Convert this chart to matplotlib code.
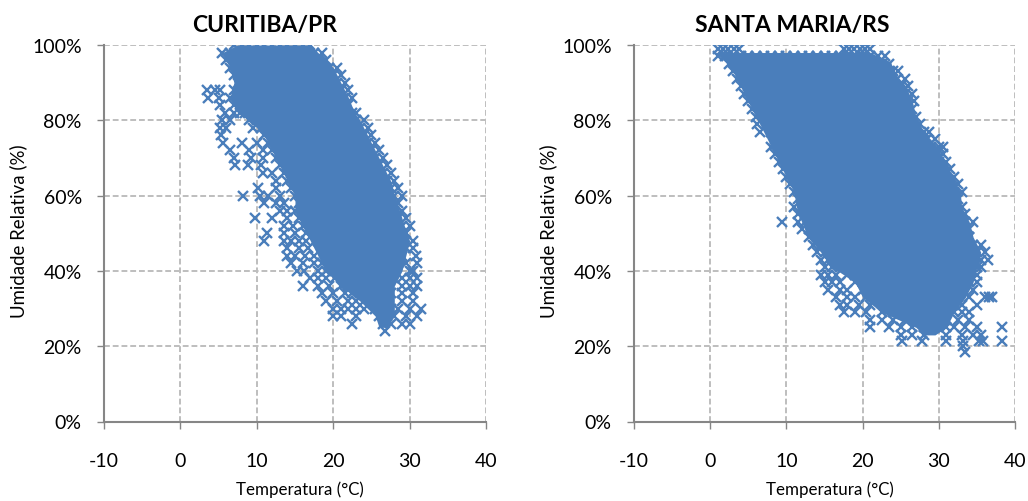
import matplotlib
matplotlib.use('Agg')
import matplotlib.pyplot as plt

plt.rcParams['font.family'] = ['Lato', 'DejaVu Sans']
plt.rcParams['axes.unicode_minus'] = False

# each row: one humidity level, with the temperatures read at that level
cwb_umid = [100, 98, 96, 94, 92, 90, 88, 86, 84, 82, 80, 78, 76, 74, 72, 70, 68, 66, 64, 62,
            60, 58, 56, 54, 52, 50, 48, 46, 44, 42, 40, 38, 36, 34, 32, 30, 28, 26, 24]
cwb_temp = [
    [7, 8, 9, 10, 11, 12, 13, 14, 15, 16, 17],
    [5.5, 6.5, 7.5, 8.5, 9.5, 10.5, 11.5, 12.5, 13.5, 14.5, 15.5, 16.5, 17.5, 18.5],
    [6, 7, 8, 9, 10, 11, 12, 13, 14, 15, 16, 17, 18, 19],
    [6.5, 7.5, 8.5, 9.5, 10.5, 11.5, 12.5, 13.5, 14.5, 15.5, 16.5, 17.5, 18.5, 19.5, 20.5],
    [7, 8, 9, 10, 11, 12, 13, 14, 15, 16, 17, 18, 19, 20, 21],
    [7.5, 8.5, 9.5, 10.5, 11.5, 12.5, 13.5, 14.5, 15.5, 16.5, 17.5, 18.5, 19.5, 20.5, 21.5],
    [3.5, 4.5, 5.2, 7, 8, 9, 10, 11, 12, 13, 14, 15, 16, 17, 18, 19, 20, 21, 22],
    [3.6, 5, 6.5, 7.5, 8.5, 9.5, 10.5, 11.5, 12.5, 13.5, 14.5, 15.5, 16.5, 17.5, 18.5, 19.5, 20.5, 21.5, 22.5],
    [5.2, 7, 8, 9, 10, 11, 12, 13, 14, 15, 16, 17, 18, 19, 20, 21, 22],
    [5.8, 7, 7.8, 8.5, 9.5, 10.5, 11.5, 12.5, 13.5, 14.5, 15.5, 16.5, 17.5, 18.5, 19.5, 20.5, 21.5, 22.5, 23],
    [5.4, 6.5, 9, 10, 11, 12, 13, 14, 15, 16, 17, 18, 19, 20, 21, 22, 23, 24],
    [5.2, 6, 9.5, 10.5, 11.5, 12.5, 13.5, 14.5, 15.5, 16.5, 17.5, 18.5, 19.5, 20.5, 21.5, 22.5, 23.5, 24.5],
    [5.3, 11, 12, 13, 14, 15, 16, 17, 18, 19, 20, 21, 22, 23, 24, 25],
    [5.6, 8, 10, 11.5, 12.5, 13.5, 14.5, 15.5, 16.5, 17.5, 18.5, 19.5, 20.5, 21.5, 22.5, 23.5, 24.5, 25.5],
    [6.5, 9, 10.8, 12, 13, 14, 15, 16, 17, 18, 19, 20, 21, 22, 23, 24, 25, 26],
    [7, 9.3, 10.8, 12.5, 13.5, 14.5, 15.5, 16.5, 17.5, 18.5, 19.5, 20.5, 21.5, 22.5, 23.5, 24.5, 25.5, 26.5],
    [7.2, 8.8, 10.5, 13, 14, 15, 16, 17, 18, 19, 20, 21, 22, 23, 24, 25, 26, 27],
    [10.8, 12, 13.5, 14.5, 15.5, 16.5, 17.5, 18.5, 19.5, 20.5, 21.5, 22.5, 23.5, 24.5, 25.5, 26.5, 27.5],
    [12.5, 14, 15, 16, 17, 18, 19, 20, 21, 22, 23, 24, 25, 26, 27, 28],
    [10.2, 12.5, 14.5, 15.5, 16.5, 17.5, 18.5, 19.5, 20.5, 21.5, 22.5, 23.5, 24.5, 25.5, 26.5, 27.5, 28.5],
    [8.2, 10.4, 11.5, 13, 15, 16, 17, 18, 19, 20, 21, 22, 23, 24, 25, 26, 27, 28, 29],
    [11, 12.5, 13.5, 15.5, 16.5, 17.5, 18.5, 19.5, 20.5, 21.5, 22.5, 23.5, 24.5, 25.5, 26.5, 27.5, 28.5],
    [13, 14, 15, 16, 17, 18, 19, 20, 21, 22, 23, 24, 25, 26, 27, 28, 29],
    [9.8, 12, 14, 15.5, 16.5, 17.5, 18.5, 19.5, 20.5, 21.5, 22.5, 23.5, 24.5, 25.5, 26.5, 27.5, 28.5, 29.5],
    [13.5, 14.8, 16, 17, 18, 19, 20, 21, 22, 23, 24, 25, 26, 27, 28, 29, 30],
    [11.3, 13.5, 15, 16.5, 17.5, 18.5, 19.5, 20.5, 21.5, 22.5, 23.5, 24.5, 25.5, 26.5, 27.5, 28.5, 29.5],
    [11, 13.5, 14.5, 15.5, 16.5, 18, 19, 20, 21, 22, 23, 24, 25, 26, 27, 28, 29, 30.5],
    [14, 15.5, 16.7, 18.5, 19.5, 20.5, 21.5, 22.5, 23.5, 24.5, 25.5, 26.5, 27.5, 28.5, 29.5, 30.5],
    [14, 15, 16.3, 17.5, 19, 20, 21, 22, 23, 24, 25, 26, 27, 28, 29, 30.8],
    [14.5, 16, 17.5, 18.5, 19.5, 20.5, 21.5, 22.5, 23.5, 24.5, 25.5, 26.5, 27.5, 28.5, 29.5, 31],
    [15.3, 16.2, 18, 19, 20, 21, 22, 23, 24, 25, 26, 27, 28, 30, 30.5],
    [17, 18, 19, 20.3, 21.5, 22.5, 23.5, 24.5, 25.5, 26.5, 27.5, 29, 30, 31],
    [16, 18, 19.5, 21, 22, 23, 24, 25, 26, 27, 29, 30, 31],
    [18.5, 20, 21.5, 22.5, 23.5, 24.5, 25.5, 26.5, 27.5, 29, 30.5],
    [19, 20.5, 22, 23, 24, 25, 26, 27, 29, 30.5],
    [20, 21, 22, 23, 24, 25.5, 26.5, 27.5, 28.5, 30, 31.5],
    [20, 21, 23, 26, 27, 28, 29.5, 31],
    [22.5, 26.5, 27.5, 29, 30],
    [26.8],
]
# where the crosses overlap into a solid mass: limits of that mass per humidity
cwb_massa_umid = [100, 98, 94, 90, 86, 82, 80, 76, 72, 68, 64, 60, 56, 52, 48, 44, 40, 36, 32, 28, 25]
cwb_massa_min = [7.5, 5.5, 6.5, 7, 6.5, 7.5, 9, 11, 12, 13, 14, 15, 15, 16, 17, 18, 19, 21, 23.5, 25.5, 26]
cwb_massa_max = [17, 18, 20, 21, 22, 22.8, 23.5, 24.5, 25.5, 26.5, 27.5, 28, 28.7, 29.3, 30, 29.5, 29, 28, 28, 28, 27]

sm_umid = [99, 97, 95, 93, 91, 89, 87, 85, 83, 81, 79, 77, 75, 73, 71, 69, 67, 65, 63, 61,
           59, 57, 55, 53, 51, 49, 47, 45, 43, 41, 39, 37, 35, 33, 31, 29, 27, 25, 23, 21.5, 20, 18.5]
sm_temp = [
    [1, 1.7, 2.4, 3.1, 3.8, 17.5, 18.2, 18.9, 19.6, 20.3, 21],
    [1, 2, 3, 4, 5, 6, 7, 8, 9, 10, 11, 12, 13, 14, 15, 16, 17, 18, 19, 20, 21, 22, 23],
    [2.5, 3.5, 4.5, 5.5, 6.5, 7.5, 8.5, 9.5, 10.5, 11.5, 12.5, 13.5, 14.5, 15.5, 16.5, 17.5, 18.5, 19.5, 20.5, 21.5, 22.5, 23.5],
    [3, 4, 5, 6, 7, 8, 9, 10, 11, 12, 13, 14, 15, 16, 17, 18, 19, 20, 21, 22, 23, 24, 24.7],
    [3.5, 4.5, 5.5, 6.5, 7.5, 8.5, 9.5, 10.5, 11.5, 12.5, 13.5, 14.5, 15.5, 16.5, 17.5, 18.5, 19.5, 20.5, 21.5, 22.5, 23.5, 24.5, 25.5],
    [4, 5, 6, 7, 8, 9, 10, 11, 12, 13, 14, 15, 16, 17, 18, 19, 20, 21, 22, 23, 24, 25, 26],
    [4.5, 5.5, 6.5, 7.5, 8.5, 9.5, 10.5, 11.5, 12.5, 13.5, 14.5, 15.5, 16.5, 17.5, 18.5, 19.5, 20.5, 21.5, 22.5, 23.5, 24.5, 25.5, 26.5],
    [5, 6, 7, 8, 9, 10, 11, 12, 13, 14, 15, 16, 17, 18, 19, 20, 21, 22, 23, 24, 25, 26, 26.8],
    [5.5, 6.5, 7.5, 8.5, 9.5, 10.5, 11.5, 12.5, 13.5, 14.5, 15.5, 16.5, 17.5, 18.5, 19.5, 20.5, 21.5, 22.5, 23.5, 24.5, 25.5, 26.5],
    [6, 7, 8, 9, 10, 11, 12, 13, 14, 15, 16, 17, 18, 19, 20, 21, 22, 23, 24, 25, 26, 27],
    [6.2, 7.5, 8.5, 9.5, 10.5, 11.5, 12.5, 13.5, 14.5, 15.5, 16.5, 17.5, 18.5, 19.5, 20.5, 21.5, 22.5, 23.5, 24.5, 25.5, 26.5, 27.5],
    [6.5, 8, 9, 10, 11, 12, 13, 14, 15, 16, 17, 18, 19, 20, 21, 22, 23, 24, 25, 26, 27, 28, 28.7],
    [8.5, 9.5, 10.5, 11.5, 12.5, 13.5, 14.5, 15.5, 16.5, 17.5, 18.5, 19.5, 20.5, 21.5, 22.5, 23.5, 24.5, 25.5, 26.5, 27.5, 28.5, 29.5],
    [8, 9, 10, 11, 12, 13, 14, 15, 16, 17, 18, 19, 20, 21, 22, 23, 24, 25, 26, 27, 28, 29, 30, 30.5],
    [8.5, 9.5, 10.5, 11.5, 12.5, 13.5, 14.5, 15.5, 16.5, 17.5, 18.5, 19.5, 20.5, 21.5, 22.5, 23.5, 24.5, 25.5, 26.5, 27.5, 28.5, 29.5, 30.5],
    [9, 10, 11, 12, 13, 14, 15, 16, 17, 18, 19, 20, 21, 22, 23, 24, 25, 26, 27, 28, 29, 30, 31],
    [9.5, 10.5, 11.5, 12.5, 13.5, 14.5, 15.5, 16.5, 17.5, 18.5, 19.5, 20.5, 21.5, 22.5, 23.5, 24.5, 25.5, 26.5, 27.5, 28.5, 29.5, 30.5, 31.5],
    [10, 11, 12, 13, 14, 15, 16, 17, 18, 19, 20, 21, 22, 23, 24, 25, 26, 27, 28, 29, 30, 31, 32],
    [10.5, 11.5, 12.5, 13.5, 14.5, 15.5, 16.5, 17.5, 18.5, 19.5, 20.5, 21.5, 22.5, 23.5, 24.5, 25.5, 26.5, 27.5, 28.5, 29.5, 30.5, 31.5, 32.5],
    [11, 12, 13, 14, 15, 16, 17, 18, 19, 20, 21, 22, 23, 24, 25, 26, 27, 28, 29, 30, 31, 32, 33],
    [11.5, 12.5, 13.5, 14.5, 15.5, 16.5, 17.5, 18.5, 19.5, 20.5, 21.5, 22.5, 23.5, 24.5, 25.5, 26.5, 27.5, 28.5, 29.5, 30.5, 31.5, 32.5],
    [11, 12, 13, 14, 15, 16, 17, 18, 19, 20, 21, 22, 23, 24, 25, 26, 27, 28, 29, 30, 31, 32, 33],
    [11.5, 12.5, 13.5, 14.5, 15.5, 16.5, 17.5, 18.5, 19.5, 20.5, 21.5, 22.5, 23.5, 24.5, 25.5, 26.5, 27.5, 28.5, 29.5, 30.5, 31.5, 32.5, 33.5],
    [9.4, 11.5, 12.5, 13.5, 14.5, 15.5, 16.5, 17.5, 18.5, 19.5, 20.5, 21.5, 22.5, 23.5, 24.5, 25.5, 26.5, 27.5, 28.5, 29.5, 30.5, 31.5, 32.5, 33.5, 34.5],
    [12, 13, 14, 15, 16, 17, 18, 19, 20, 21, 22, 23, 24, 25, 26, 27, 28, 29, 30, 31, 32, 33, 34],
    [13, 14, 15, 16, 17, 18, 19, 20, 21, 22, 23, 24, 25, 26, 27, 28, 29, 30, 31, 32, 33, 34],
    [13.5, 14.5, 15.5, 17, 18.5, 19.5, 20.5, 21.5, 22.5, 23.5, 24.5, 25.5, 26.5, 27.5, 28.5, 29.5, 30.5, 31.5, 32.5, 33.5, 34.5, 35.5],
    [14, 15, 16, 17.5, 19, 20, 21, 22, 23, 24, 25, 26, 27, 28, 29, 30, 31, 32, 33, 34, 35, 36],
    [14.5, 15.5, 16.5, 18, 19.5, 21, 22, 23, 24.5, 25.5, 26.5, 27.5, 28.5, 29.5, 30.5, 31.5, 32.5, 33.5, 34.5, 35.5, 36.5],
    [15, 16, 17, 19, 20, 21.5, 23, 24, 25, 26, 27, 28, 29, 30, 31, 32, 33, 34, 35, 35.5],
    [14.5, 15.5, 16.5, 18, 19, 20.5, 22, 24, 25, 26, 27, 28, 29, 30, 31, 32, 33, 34, 35],
    [15, 16, 17, 19, 20, 21, 23, 24, 25, 26, 27, 28, 29, 30.5, 32, 33, 34, 35],
    [15.5, 17, 18, 20, 21.5, 23, 24, 25, 26, 27, 28, 29, 30, 31.5, 33, 34.5],
    [16.5, 18, 19, 20.5, 22, 23.5, 25, 26, 27, 28, 29, 30, 31, 32.5, 34, 36, 36.6, 37],
    [17, 18, 19.5, 21, 23, 24.5, 26, 27, 28, 29, 30, 31.5, 33, 35],
    [17.5, 19, 20.5, 22.5, 24, 26, 27, 28, 29, 30, 32, 33, 34],
    [21, 22.5, 24, 25.5, 27, 28, 29, 31, 32.5, 34],
    [21, 23.5, 25, 26.5, 28, 29, 31, 32, 33.5, 35, 38.3],
    [25, 26.5, 28, 31, 33, 34.5, 35.5],
    [25.2, 27.8, 31, 33.2, 35.3, 35.8, 38.3],
    [33.2],
    [33.4],
]
sm_massa_umid = [98, 95.5, 93, 89, 85, 81, 77, 73, 69, 65, 61, 57, 53, 49, 45, 41, 37, 33, 29, 25, 23]
sm_massa_min = [0.7, 2, 3, 4, 5, 6, 7, 8, 9, 10, 11, 11.3, 12, 12.8, 14.5, 16, 19, 20, 22.5, 27, 28]
sm_massa_max = [21, 23.7, 24, 25.7, 26.5, 27, 28, 29.8, 30.8, 31.8, 32.8, 33, 34, 34.5, 35.5, 35, 34.5, 33.5, 32, 31, 29.5]

x_ticks = [-10, 0, 10, 20, 30, 40]
y_ticks = [0, 20, 40, 60, 80, 100]
y_tick_labels = ['0%', '20%', '40%', '60%', '80%', '100%']

cor = '#4A7EBB'

fig = plt.figure(figsize=(10.28, 5.02), dpi=100)
ax_1 = fig.add_axes([104 / 1028, 79.5 / 502, 382 / 1028, 376.5 / 502])
ax_2 = fig.add_axes([634 / 1028, 79.5 / 502, 381 / 1028, 376.5 / 502])

panels = [
    (ax_1, 'CURITIBA/PR', 0.42, cwb_umid, cwb_temp, cwb_massa_umid, cwb_massa_min, cwb_massa_max),
    (ax_2, 'SANTA MARIA/RS', 0.416, sm_umid, sm_temp, sm_massa_umid, sm_massa_min, sm_massa_max),
]
for ax, title, title_x, umid, temp, m_umid, m_min, m_max in panels:
    ax.fill_betweenx(m_umid, m_min, m_max, color=cor, linewidth=0, zorder=2)
    for u, row in zip(umid, temp):
        ax.plot(row, [u] * len(row), linestyle='none', marker='x', ms=7.5, mew=1.7, color=cor, zorder=3)
    ax.set_xlim(-10, 40)
    ax.set_ylim(0, 100)
    ax.set_xticks(x_ticks)
    ax.set_yticks(y_ticks)
    ax.set_yticklabels(y_tick_labels)
    ax.grid(True, color='#BEBEBE', linestyle=(0, (3, 1.5)), linewidth=1.4)
    ax.set_axisbelow(True)
    ax.spines['top'].set_visible(False)
    ax.spines['right'].set_visible(False)
    ax.spines['left'].set_color('#868686')
    ax.spines['bottom'].set_color('#868686')
    ax.spines['left'].set_linewidth(1.5)
    ax.spines['bottom'].set_linewidth(1.5)
    ax.tick_params(axis='both', labelsize=14, color='#868686', length=5, width=1, direction='out',
                   labelcolor='black')
    ax.tick_params(axis='y', pad=11)
    ax.tick_params(axis='x', pad=17)
    ax.text(title_x, 1.055, title, transform=ax.transAxes, fontsize=16.5, fontweight='bold',
            ha='center', va='center')
    ax.set_xlabel('Temperatura (°C)', fontsize=12.2)
    ax.set_ylabel('Umidade Relativa (%)', fontsize=13.4)
    ax.xaxis.set_label_coords(0.513, -0.157)
    ax.yaxis.set_label_coords(-0.201, 0.507)

fig.savefig('out.png', dpi=100)
